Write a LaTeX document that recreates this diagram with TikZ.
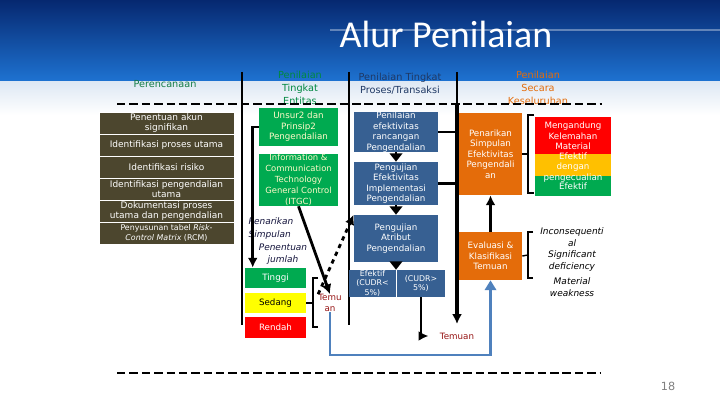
\documentclass[tikz,border=0pt]{standalone}
\usepackage{fontspec}
\setmainfont{DejaVu Sans}
\newfontfamily\judulfont{Carlito}
\usetikzlibrary{calc,arrows.meta}

\definecolor{coklat}{RGB}{76,70,46}
\definecolor{hijau}{RGB}{0,170,80}
\definecolor{hijautua}{RGB}{20,125,70}
\definecolor{biru}{RGB}{55,96,146}
\definecolor{birutua}{RGB}{31,56,100}
\definecolor{oranye}{RGB}{228,108,10}
\definecolor{kuning}{RGB}{255,255,0}
\definecolor{emas}{RGB}{255,192,0}
\definecolor{merah}{RGB}{255,0,0}
\definecolor{garisbiru}{RGB}{79,129,189}
\definecolor{merahtua}{RGB}{150,20,20}
\definecolor{krem}{RGB}{255,250,200}
\definecolor{tinta}{RGB}{20,20,60}

\newcommand{\kecil}{\fontsize{6.2}{7.5}\selectfont}

\tikzset{
  kotak/.style={inner sep=0pt, align=center, text=white, font=\kecil},
  rencana/.style={kotak, fill=coklat, draw=white, line width=0.5pt, minimum width=3.375cm, minimum height=0.55cm, font=\fontsize{6.4}{7.4}\selectfont},
  entitas/.style={kotak, fill=hijau, text=krem, minimum width=1.975cm},
  level/.style={kotak, minimum width=1.525cm, minimum height=0.5cm},
  proses/.style={kotak, fill=biru, minimum width=2.1cm},
  simpul/.style={kotak, fill=oranye, minimum width=1.575cm},
  blok/.style={kotak, minimum width=1.9cm},
  kepala/.style={align=center, inner sep=0pt, font=\fontsize{6.9}{9.2}\selectfont},
  miring/.style={align=center, inner sep=0pt, font=\fontsize{6.4}{8.6}\selectfont\itshape},
  panah/.style={line width=2pt, -{Latex[length=7pt,width=7pt]}},
  segitiga/.style={line width=1.5pt, -{Triangle[length=6pt,width=9pt]}},
  kurung/.style={line width=1pt}
}

\begin{document}
\begin{tikzpicture}[x=0.025cm,y=-0.025cm]
\useasboundingbox (0,0) rectangle (720,405);
% latar
\shade[top color={rgb,255:red,6;green,40;blue,112}, bottom color={rgb,255:red,30;green,115;blue,210}] (0,0) rectangle (720,82);
\fill[white, opacity=0.35] (330,29) rectangle (720,31);
\shade[top color={rgb,255:red,222;green,232;blue,244}, bottom color=white] (0,82) rectangle (720,115);

\node[font=\judulfont\fontsize{27}{32}\selectfont, text=white] (judul) at (446,34) {Alur Penilaian};

% kepala kolom
\node[kepala, text=hijautua] (h1) at (165,84) {Perencanaan};
\node[kepala, text=hijau!80!black] (h2) at (300,88) {Penilaian\\Tingkat\\Entitas};
\node[kepala, text=birutua] (h3) at (400,84) {Penilaian Tingkat\\Proses/Transaksi};
\node[kepala, text=oranye] (h4) at (538,88) {Penilaian\\Secara\\Keseluruhan};

\draw[line width=1.2pt] (242,72) -- (242,325);
\draw[line width=1.2pt] (349,72) -- (349,325);
\draw[line width=1.2pt] (457,72) -- (457,104);
\draw[line width=2pt, dash pattern=on 6pt off 2.8pt] (117,104) -- (602,104);
\draw[line width=2pt, dash pattern=on 6pt off 2.8pt] (117,373) -- (600,373);

% perencanaan
\node[rencana] (r1) at (166.5,123) {Penentuan akun\\signifikan};
\node[rencana] (r2) at (166.5,145) {Identifikasi proses utama};
\node[rencana] (r3) at (166.5,167) {Identifikasi risiko};
\node[rencana] (r4) at (166.5,189) {Identifikasi pengendalian\\utama};
\node[rencana] (r5) at (166.5,211) {Dokumentasi proses\\utama dan pengendalian};
\node[rencana, font=\fontsize{5.6}{7}\selectfont] (r6) at (166.5,233) {Penyusunan tabel \textit{Risk-}\\\textit{Control Matrix} (RCM)};

% entitas
\node[entitas, minimum height=0.95cm] (e1) at (298.5,127) {Unsur2 dan\\Prinsip2\\Pengendalian};
\node[entitas, minimum height=1.3cm, font=\fontsize{6}{7.8}\selectfont] (e2) at (298.5,180) {Information \&\\Communication\\Technology\\General Control\\(ITGC)};
\node[miring, text=tinta, align=left] (n1) at (271,228.5) {Penarikan\\Simpulan};
\node[miring, text=tinta] (n2) at (283,254) {Penentuan\\jumlah};
\node[level, fill=hijau] (l1) at (275.5,278) {Tinggi};
\node[level, fill=kuning, text=black] (l2) at (275.5,303) {Sedang};
\node[level, fill=merah] (l3) at (275.5,327.5) {Rendah};
\node[kotak, text=merahtua] (t1) at (330,303) {Temu\\an};

% proses
\node[proses, minimum height=1cm] (p1) at (396,132) {Penilaian\\efektivitas\\rancangan\\Pengendalian};
\node[proses, minimum height=1.075cm] (p2) at (396,183.5) {Pengujian\\Efektivitas\\Implementasi\\Pengendalian};
\node[proses, minimum height=1.175cm] (p3) at (396,238.5) {Pengujian\\Atribut\\Pengendalian};
\node[kotak, fill=biru, minimum width=1.175cm, minimum height=0.675cm, font=\fontsize{5.6}{6.6}\selectfont] (p4) at (372.5,283.5) {Efektif\\(CUDR<\\5\%)};
\node[kotak, fill=biru, minimum width=1.2cm, minimum height=0.675cm, font=\fontsize{5.6}{6.6}\selectfont] (p5) at (421,283.5) {(CUDR>\\5\%)};
\node[kotak, text=merahtua] (t2) at (457,336) {Temuan};

% keseluruhan
\node[simpul, minimum height=2.05cm] (k1) at (490.5,154) {Penarikan\\Simpulan\\Efektivitas\\Pengendali\\an};
\node[simpul, minimum height=1.2cm] (k2) at (490.5,256) {Evaluasi \&\\Klasifikasi\\Temuan};
\node[blok, fill=merah, minimum height=0.925cm] (m1) at (573,135.5) {};
\node[blok, fill=emas, minimum height=0.55cm] (m2) at (573,165) {};
\node[blok, fill=hijau, minimum height=0.5cm] (m3) at (573,186) {};
\node[kotak] (tm1) at (573,136) {Mengandung\\Kelemahan\\Material};
\node[kotak] (tm2) at (573,167.5) {Efektif\\dengan\\pengecualian};
\node[kotak] (tm3) at (573,186) {Efektif};
\node[miring] (i1) at (572,237) {Inconsequenti\\al};
\node[miring] (i2) at (572,261) {Significant\\deficiency};
\node[miring] (i3) at (572,287) {Material\\weakness};

% panah
\draw[panah] (e1.west) -| ([xshift=0.2cm]l1.north west);
\draw[panah] (e2.south) -- (t1.north);
\draw[panah, dashed] (t1.north west) -- (p3.north west);
\draw[kurung] (318,278) -- (313,278) -- (313,327) -- (318,327);
\draw[kurung] (313,303) -- (l2.east);
\draw[segitiga] (p1.south) -- (p2.north);
\draw[segitiga] (p2.south) -- (p3.north);
\draw[segitiga] (p3.south) -- (p3.south |- p5.north);
\draw[line width=2pt] (p1.east) -- (p1.east -| k1.west);
\draw[line width=2pt] (p2.east) -- (p2.east -| k1.west);
\draw[panah, line width=2.4pt, shorten >=6pt] (457,104) -- (t2.north);
\draw[panah, shorten >=8pt] (p5.south) |- (t2.west);
\coordinate (sudut) at (490.5,355);
\draw[garisbiru, line width=2pt, -{Triangle[length=7pt,width=8pt]}] (t1.south) |- (sudut) -- (k2.south);
\draw[panah] (k2.north) -- (k1.south);
\draw[kurung] (534,115) -- (528,115) -- (528,193) -- (534,193);
\draw[kurung] (528,154) -- (k1.east);
\draw[kurung] (533,232) -- (528,232) -- (528,278) -- (533,278);
\draw[kurung] (528,255) -- (k2.east);

\node[text=gray, font=\fontsize{8}{9}\selectfont] (hal) at (668,386) {18};
\end{tikzpicture}
\end{document}
